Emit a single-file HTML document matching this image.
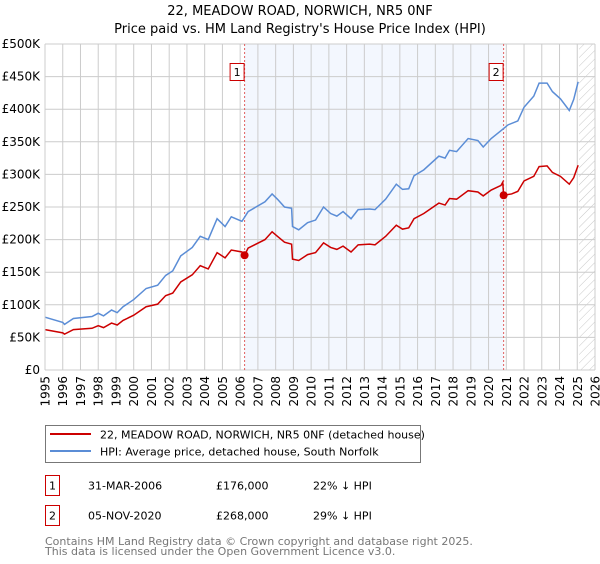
<!DOCTYPE html>
<html><head><meta charset="utf-8"><style>
body{margin:0;background:#fff;font-family:"DejaVu Sans","Liberation Sans",sans-serif;}
svg text{font-family:"DejaVu Sans","Liberation Sans",sans-serif;}
</style></head><body>
<svg id="chart" width="600" height="560" xmlns="http://www.w3.org/2000/svg">
<defs><pattern id="hatch" width="6" height="6" patternUnits="userSpaceOnUse" patternTransform="rotate(45)"><line x1="0" y1="0" x2="0" y2="6" stroke="#c8c8c8" stroke-width="1"/></pattern></defs>
<text x="300" y="15" text-anchor="middle" font-size="13">22, MEADOW ROAD, NORWICH, NR5 0NF</text>
<text x="300" y="33" text-anchor="middle" font-size="13">Price paid vs. HM Land Registry's House Price Index (HPI)</text>
<g id="plot"></g>
<g>
<rect x="45.5" y="425.5" width="375" height="37" fill="#fff" stroke="#777"/>
<line x1="50" y1="434" x2="91" y2="434" stroke="#cc0000" stroke-width="2"/>
<text x="100" y="438.5" font-size="11">22, MEADOW ROAD, NORWICH, NR5 0NF (detached house)</text>
<line x1="50" y1="451" x2="91" y2="451" stroke="#5b8dd6" stroke-width="2"/>
<text x="100" y="455.5" font-size="11">HPI: Average price, detached house, South Norfolk</text>
</g>
<g>
<rect x="45.5" y="475.5" width="14" height="20" fill="#fff" stroke="#cc0000"/>
<text x="52.5" y="489.5" text-anchor="middle" font-size="11">1</text>
<text x="88" y="489.5" font-size="11">31-MAR-2006</text>
<text x="216" y="489.5" font-size="11">£176,000</text>
<text x="313" y="489.5" font-size="11">22% ↓ HPI</text>
</g>
<g>
<rect x="45.5" y="505.5" width="14" height="20" fill="#fff" stroke="#cc0000"/>
<text x="52.5" y="519.5" text-anchor="middle" font-size="11">2</text>
<text x="88" y="519.5" font-size="11">05-NOV-2020</text>
<text x="216" y="519.5" font-size="11">£268,000</text>
<text x="313" y="519.5" font-size="11">29% ↓ HPI</text>
</g>
<text x="45" y="545" font-size="11" fill="#777">Contains HM Land Registry data © Crown copyright and database right 2025.</text>
<text x="45" y="555" font-size="11" fill="#777">This data is licensed under the Open Government Licence v3.0.</text>
</svg>
<script>
const hpiYears=[1995,1996,1996.1,1996.6,1997.65,1998,1998.3,1998.75,1999.07,1999.4,2000,2000.7,2001.35,2001.8,2002.2,2002.65,2003.3,2003.75,2004.2,2004.7,2005.15,2005.5,2006.1,2006.45,2007.4,2007.8,2008.1,2008.5,2008.9,2008.95,2009.3,2009.8,2010.25,2010.7,2011.1,2011.45,2011.8,2012.25,2012.65,2013.3,2013.6,2014.2,2014.8,2015.15,2015.5,2015.8,2016.35,2017.2,2017.55,2017.8,2018.2,2018.85,2019.4,2019.7,2020.15,2020.7,2021.1,2021.65,2022,2022.55,2022.85,2023.3,2023.6,2024.05,2024.55,2024.8,2025.05];
const hpiValues=[81,73,70,79,82,87,83,92,88,97,108,125,130,145,152,175,188,205,200,232,220,235,228,243,258,270,262,250,248,220,215,226,230,250,240,236,243,232,246,247,246,262,285,277,278,298,307,328,325,337,335,355,352,342,355,367,376,382,403,420,440,440,427,416,398,415,442];
const priceYears=[1995,1996,1996.1,1996.6,1997.65,1998,1998.3,1998.75,1999.07,1999.4,2000,2000.7,2001.35,2001.8,2002.2,2002.65,2003.3,2003.75,2004.2,2004.7,2005.15,2005.5,2006.1,2006.25,2006.45,2007.4,2007.8,2008.1,2008.5,2008.9,2008.95,2009.3,2009.8,2010.25,2010.7,2011.1,2011.45,2011.8,2012.25,2012.65,2013.3,2013.6,2014.2,2014.8,2015.15,2015.5,2015.8,2016.35,2017.2,2017.55,2017.8,2018.2,2018.85,2019.4,2019.7,2020.15,2020.7,2020.8,2020.85,2021.3,2021.65,2022,2022.55,2022.85,2023.3,2023.6,2024.05,2024.55,2024.8,2025.05];
const priceValues=[62,57,55,62,64,68,65,72,69,76,84,97,101,114,118,135,146,160,155,180,172,184,181,176,187,200,212,205,196,193,170,168,177,180,195,188,185,190,181,192,193,192,205,222,216,218,232,240,256,253,263,262,275,273,267,276,283,288,268,270,274,290,297,312,313,303,297,285,295,314];
const saleYears=[2006.25,2020.85];
const saleValues=[176,268];
const saleLabels=["1","2"];
const yTicks=[0,50,100,150,200,250,300,350,400,450,500];
const yTickLabels=["£0","£50K","£100K","£150K","£200K","£250K","£300K","£350K","£400K","£450K","£500K"];
const xTicks=[1995,1996,1997,1998,1999,2000,2001,2002,2003,2004,2005,2006,2007,2008,2009,2010,2011,2012,2013,2014,2015,2016,2017,2018,2019,2020,2021,2022,2023,2024,2025,2026];
const L=45,R=595,T=44,B=370,x0=1995,x1=2026,yMax=500;
const X=v=>L+(v-x0)/(x1-x0)*(R-L);
const Y=v=>B-v/yMax*(B-T);
const NS="http://www.w3.org/2000/svg";
const g=document.getElementById('plot');
function mk(t,a){const e=document.createElementNS(NS,t);for(const k in a)e.setAttribute(k,a[k]);g.appendChild(e);return e;}
let e;
e=mk('rect',{x:X(saleYears[0]),y:T,width:X(saleYears[1])-X(saleYears[0]),height:B-T,fill:'#f3f7fe'});


e=mk('rect',{x:X(2025.1),y:T,width:R-X(2025.1),height:B-T,fill:'url(#hatch)'});


yTicks.forEach((v,i)=>{
 e=mk('line',{x1:L,x2:R,y1:Y(v),y2:Y(v),stroke:'#ccc'});
 
 
 e=mk('text',{x:L-5,y:Y(v)+4,'text-anchor':'end','font-size':12});
 e.textContent=yTickLabels[i];
 
 
});
xTicks.forEach(v=>{
 e=mk('line',{x1:X(v),x2:X(v),y1:T,y2:B,stroke:'#ccc'});
 
 
 e=mk('text',{x:0,y:0,'text-anchor':'end','font-size':12,transform:`translate(${X(v)+4.5},${B+6}) rotate(-90)`});
 e.textContent=v;
 
 
});
saleYears.forEach((yr,i)=>{
 e=mk('line',{x1:X(yr),x2:X(yr),y1:T,y2:B,stroke:'#e06060','stroke-dasharray':'2,2'});
 
 
 e=mk('rect',{x:X(yr)-14.5,y:63.5,width:14,height:17,fill:'#fff',stroke:'#cc0000'});
 
 
 e=mk('text',{x:X(yr)-7.5,y:76,'text-anchor':'middle','font-size':11});
 e.textContent=saleLabels[i];
 
 
});
e=mk('polyline',{points:hpiYears.map((v,i)=>X(v)+','+Y(hpiValues[i])).join(' '),fill:'none',stroke:'#5b8dd6','stroke-width':1.5});


e=mk('polyline',{points:priceYears.map((v,i)=>X(v)+','+Y(priceValues[i])).join(' '),fill:'none',stroke:'#cc0000','stroke-width':1.5});


saleYears.forEach((yr,i)=>{
 e=mk('circle',{cx:X(yr),cy:Y(saleValues[i]),r:4,fill:'#cc0000'});
 
 
});
e=mk('line',{x1:L,x2:L,y1:T,y2:B,stroke:'#ccc'});


</script>
</body></html>
